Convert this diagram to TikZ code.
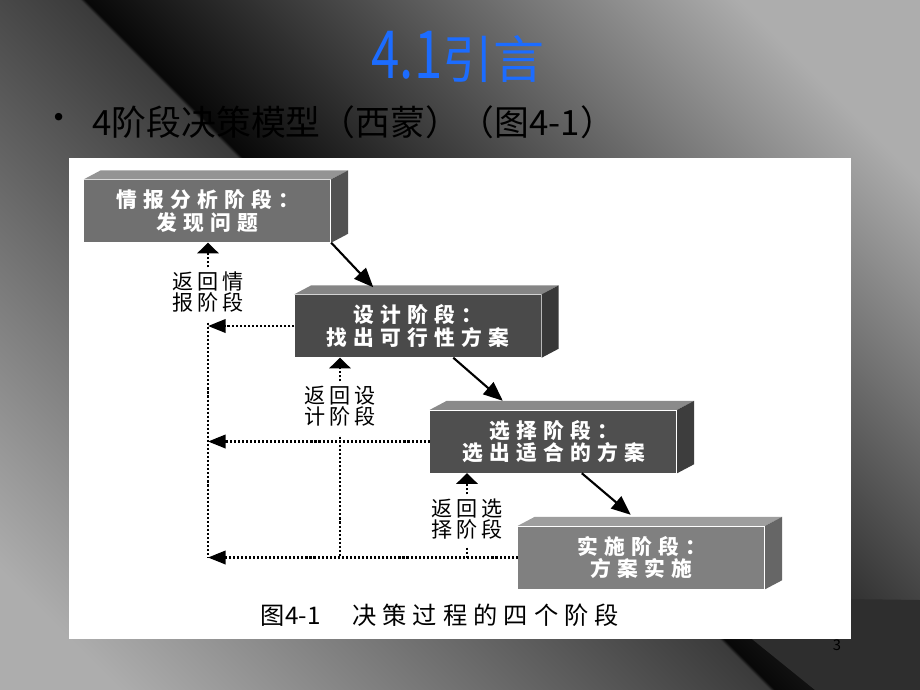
\documentclass[tikz,border=0pt]{standalone}
\usepackage{fontspec}
\usepackage{graphicx}
\setmainfont{Noto Sans CJK SC}
\newfontfamily\boxfont[LetterSpace=30]{Noto Sans CJK SC}
\newfontfamily\labelfont[LetterSpace=19]{Noto Sans CJK SC}
\newfontfamily\capfont[LetterSpace=25]{Noto Sans CJK SC}
\usetikzlibrary{arrows.meta,calc}
\newcommand{\px}{0.01cm}

\definecolor{titleblue}{RGB}{28,108,255}
\definecolor{bgl}{gray}{0.68}
\definecolor{bgm}{gray}{0.23}
\definecolor{bgd}{gray}{0.03}
\pgfdeclareverticalshading{slidebg}{100bp}{color(0bp)=(bgl); color(22bp)=(bgl); color(49.8bp)=(bgm); color(50bp)=(bgd); color(78bp)=(bgl); color(100bp)=(bgl)}

\tikzset{
  stage/.style={fill=#1, minimum width=246*\px, minimum height=62*\px, inner sep=0pt,
    text=white, align=center, font=\boxfont\bfseries\fontsize{5.9pt}{6.4pt}\selectfont},
  lbl/.style={align=center, inner sep=1pt, font=\labelfont\fontsize{6pt}{6.1pt}\selectfont},
  dotline/.style={line width=0.7pt, dash pattern=on 0.6pt off 0.55pt},
  backtip/.style={-{Triangle[length=5pt,width=3.8pt]}},
  uptip/.style={-{Triangle[length=3pt,width=6pt]}},
  flow/.style={line width=0.6pt, -{Triangle[length=5.5pt,width=4.5pt]}}
}

\begin{document}
\begin{tikzpicture}[x=0.01cm, y=-0.01cm]
  \useasboundingbox (0,0) rectangle (920,690);
  % slide background
  \shade[shading=slidebg, shading angle=-45] (-30,0) rectangle (920,720);
  \fill[black!82] (700,597) -- (920,600) -- (920,690) -- (815,690) -- cycle;

  % heading
  \node[text=titleblue, font=\fontsize{14.5pt}{16pt}\selectfont] (title) at (458,57) {\scalebox{1}[1.3]{4.1}引言};
  \node[font=\fontsize{10pt}{11pt}\selectfont] (bullet) at (59,122) {•};
  \node[anchor=west, font=\fontsize{9.9pt}{11pt}\selectfont] (point) at (80,122) {4阶段决策模型（西蒙）（图4-1）};
  \node[font=\fontsize{4.2pt}{5pt}\selectfont] (pagenum) at (837,645) {3};

  % scanned figure
  \fill[white] (69,158) rectangle (851,639);

  % the four stages
  \node[stage=black!56] (b1) at (207.5,211) {情报分析阶段：\\发现问题};
  \node[stage=black!71] (b2) at (418,326) {设计阶段：\\找出可行性方案};
  \node[stage=black!69] (b3) at (553.5,441.5) {选择阶段：\\选出适合的方案};
  \node[stage=black!50] (b4) at (641.5,557.5) {实施阶段：\\方案实施};

  \foreach \b/\tp/\sd in {b1/42/68, b2/48/78, b3/46/76, b4/38/60}
  {
    \fill[black!\tp] (\b.north west) -- ++(17,-9) -- ($(\b.north east)+(17,-9)$) -- (\b.north east) -- cycle;
    \fill[black!\sd] (\b.north east) -- ++(17,-9) -- ($(\b.south east)+(17,-9)$) -- (\b.south east) -- cycle;
  }

  % forward flow
  \draw[flow] (b1.south east) -- ($(b2.north west)+(79,-7)$);
  \draw[flow] ($(b2.south west)+(159,0)$) -- ($(b3.north west)+(73,-9)$);
  \draw[flow] ($(b3.south west)+(152,0)$) -- ($(b4.north west)+(113,-11)$);

  % return labels
  \node[lbl] (l1) at (208,292) {返回情\\报阶段};
  \node[lbl] (l2) at (340,406) {返回设\\计阶段};
  \node[lbl] (l3) at (467,519) {返回选\\择阶段};

  \draw[dotline, uptip] (l1.north) -- (l1.north |- b1.south);
  \draw[dotline, uptip] (l2.north) -- (l2.north |- b2.south);
  \draw[dotline, uptip] (l3.north) -- (l3.north |- b3.south);

  \draw[dotline] ([yshift=-6*\px]l1.south) -- (l1.south |- b4.west);
  \draw[dotline] ([yshift=-6*\px]l2.south) -- (l2.south |- b4.west);
  \draw[dotline] ([yshift=-4*\px]l3.south) -- (l3.south |- b4.west);

  \draw[dotline, backtip] (b2.west) -- (b2.west -| l1.south);
  \draw[dotline, backtip] (b3.west) -- (b3.west -| l1.south);
  \draw[dotline, backtip] (b4.west) -- (b4.west -| l1.south);

  \node[font=\fontsize{6.9pt}{8pt}\selectfont] (caption) at (440,615) {图4-1\hspace{9pt}{\capfont 决策过程的四个阶段}};
\end{tikzpicture}
\end{document}
